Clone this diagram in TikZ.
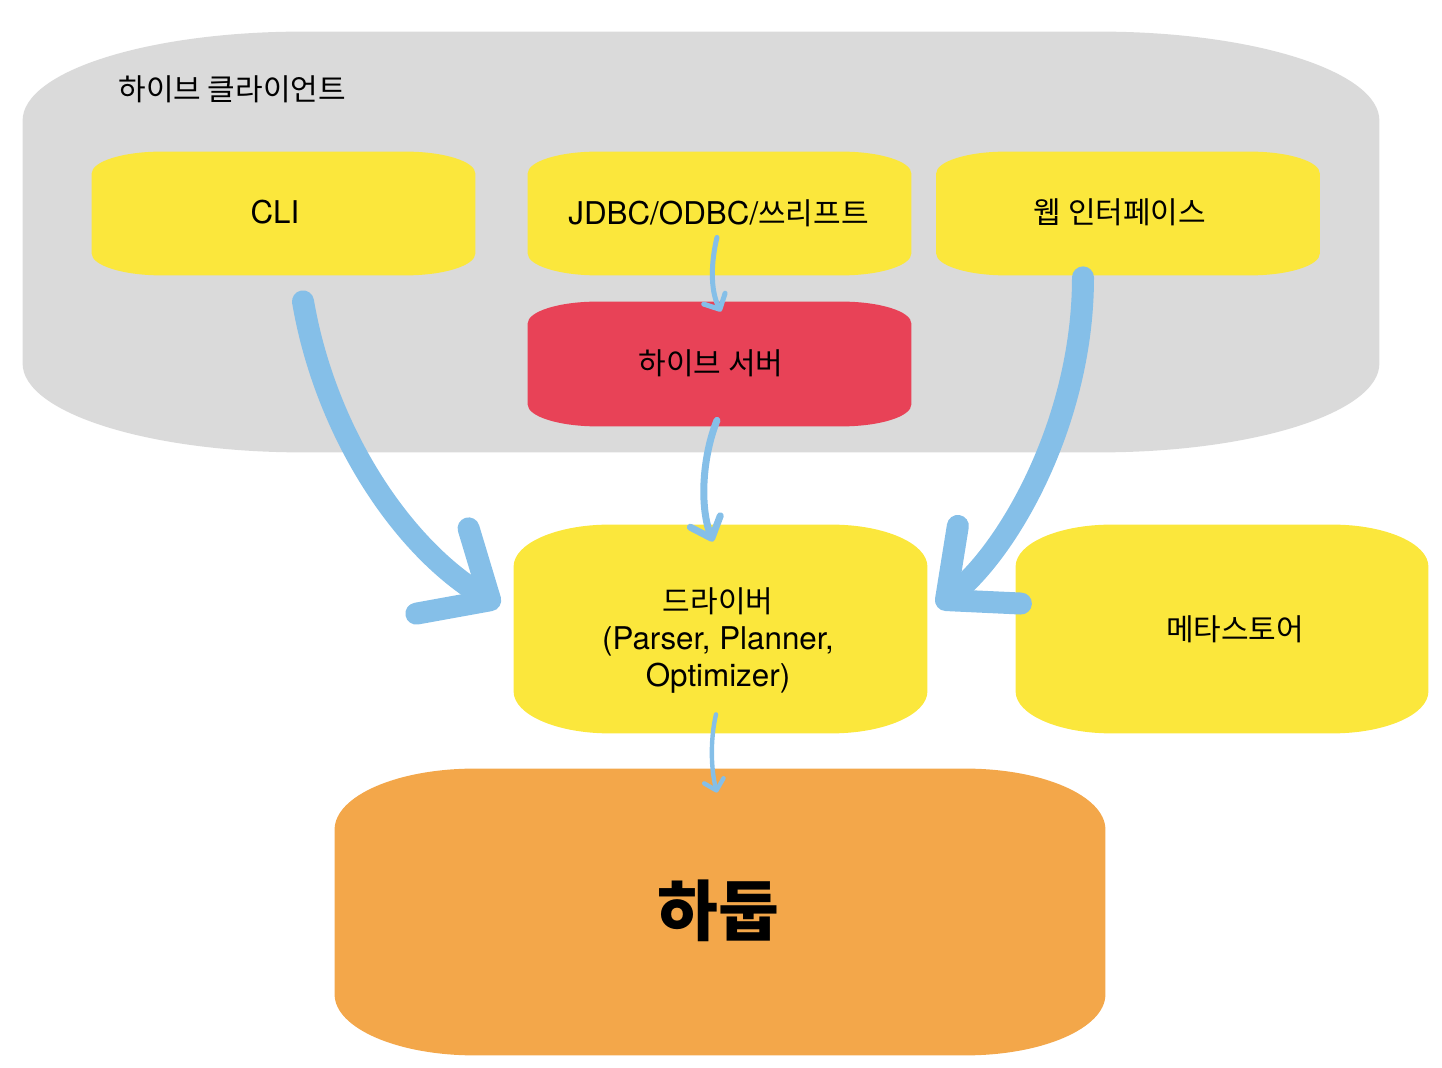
\documentclass[tikz,border=0pt]{standalone}
\usepackage{fontspec}
\setmainfont{Noto Sans CJK KR}
\newfontfamily\latf{TeX Gyre Heros}[Scale=1.045]
\usetikzlibrary{arrows.meta,backgrounds}
\definecolor{cgray}{HTML}{DADADA}
\definecolor{cyellow}{HTML}{FBE73C}
\definecolor{cred}{HTML}{E84257}
\definecolor{corange}{HTML}{F3A74A}
\definecolor{cblue}{HTML}{85BFE8}
% pillow-shaped fill round a named node: node, x radius, y radius, colour
\newcommand{\pillow}[4]{%
  \fill[#4] ([xshift=#2]#1.north west) -- ([xshift=-#2]#1.north east)
    arc[start angle=90, end angle=0, x radius=#2, y radius=#3]
    -- ([yshift=#3]#1.south east)
    arc[start angle=0, end angle=-90, x radius=#2, y radius=#3]
    -- ([xshift=#2]#1.south west)
    arc[start angle=270, end angle=180, x radius=#2, y radius=#3]
    -- ([yshift=-#3]#1.north west)
    arc[start angle=180, end angle=90, x radius=#2, y radius=#3] -- cycle;}
\begin{document}
\begin{tikzpicture}[x=0.5pt,y=-0.5pt,
  shp/.style={rectangle, inner sep=0pt, draw=none},
  txt/.style={inner sep=0pt, text=black, align=center, font=\fontsize{15}{18.5}\selectfont},
  bigarrow/.style={draw=cblue, line width=11pt, line cap=round,
    -{Straight Barb[length=28pt,width=50pt,round]}},
  thinarrow/.style={draw=cblue, line cap=round},
]
\path[use as bounding box] (0,0) rectangle (1442,1068);

% shapes
\node[shp, minimum width=678pt, minimum height=210pt] (client) at (701,242) {};
\node[shp, minimum width=191.5pt, minimum height=61.5pt] (cli) at (283.5,213.5) {};
\node[shp, minimum width=191.5pt, minimum height=61.5pt] (jdbc) at (719.5,213.5) {};
\node[shp, minimum width=191.5pt, minimum height=61.5pt] (web) at (1128,213.5) {};
\node[shp, minimum width=191.5pt, minimum height=62pt] (server) at (719.5,364) {};
\node[shp, minimum width=206.5pt, minimum height=104pt] (driver) at (720.5,629) {};
\node[shp, minimum width=206pt, minimum height=104pt] (meta) at (1222,629) {};
\node[shp, minimum width=385pt, minimum height=143pt] (hadoop) at (720,912) {};

\begin{scope}[on background layer]
  \pillow{client}{140pt}{44.5pt}{cgray}
  \pillow{cli}{35pt}{11pt}{cyellow}
  \pillow{jdbc}{35pt}{11pt}{cyellow}
  \pillow{web}{35pt}{11pt}{cyellow}
  \pillow{server}{35pt}{11pt}{cred}
  \pillow{driver}{48pt}{21pt}{cyellow}
  \pillow{meta}{48pt}{21pt}{cyellow}
  \pillow{hadoop}{70pt}{30.5pt}{corange}
\end{scope}

% texts
\node[txt, anchor=west] (clientt) at (118,89.5) {하이브 클라이언트};
\node[txt] (clit) at (275,212) {\latf CLI};
\node[txt] (jdbct) at (718.5,213) {{\latf JDBC/ODBC/}쓰리프트};
\node[txt] (webt) at (1120,212) {웹 인터페이스};
\node[txt] (servert) at (711,363.5) {하이브 서버};
\node[txt] (drivert) at (718,641) {드라이버\\{\latf (Parser, Planner,}\\{\latf Optimizer)}};
\node[txt] (metat) at (1235,629.5) {메타스토어};
\node[txt, font=\fontsize{33}{36}\selectfont\bfseries] (hadoopt) at (718,911) {하둡};

% connectors
\draw[bigarrow] ([xshift=9.75pt,yshift=-13pt]cli.south)
  .. controls (325,430) and (400,545) .. ([xshift=-7pt,yshift=11.5pt]driver.west);
\draw[bigarrow] ([xshift=-22.5pt,yshift=-1pt]web.south)
  .. controls (1083,420) and (1010,548) .. ([xshift=5pt,yshift=11pt]driver.east);
\draw[thinarrow, line width=2.5pt, -{Straight Barb[length=6pt,width=12pt,round]}]
  ([xshift=-1.25pt,yshift=19pt]jdbc.south)
  .. controls (711,262) and (710,290) .. ([xshift=0.75pt,yshift=-5pt]server.north);
\draw[thinarrow, line width=3.5pt, -{Straight Barb[length=9pt,width=16pt,round]}]
  ([xshift=-1.25pt,yshift=3pt]server.south)
  .. controls (703,455) and (699,505) .. ([xshift=-3.75pt,yshift=-8.5pt]driver.north);
\draw[thinarrow, line width=2.2pt, -{Straight Barb[length=5pt,width=10pt,round]}]
  ([xshift=-2.25pt,yshift=9.5pt]driver.south)
  .. controls (710,740) and (711,770) .. ([xshift=-1.5pt,yshift=-12pt]hadoop.north);
\end{tikzpicture}
\end{document}
